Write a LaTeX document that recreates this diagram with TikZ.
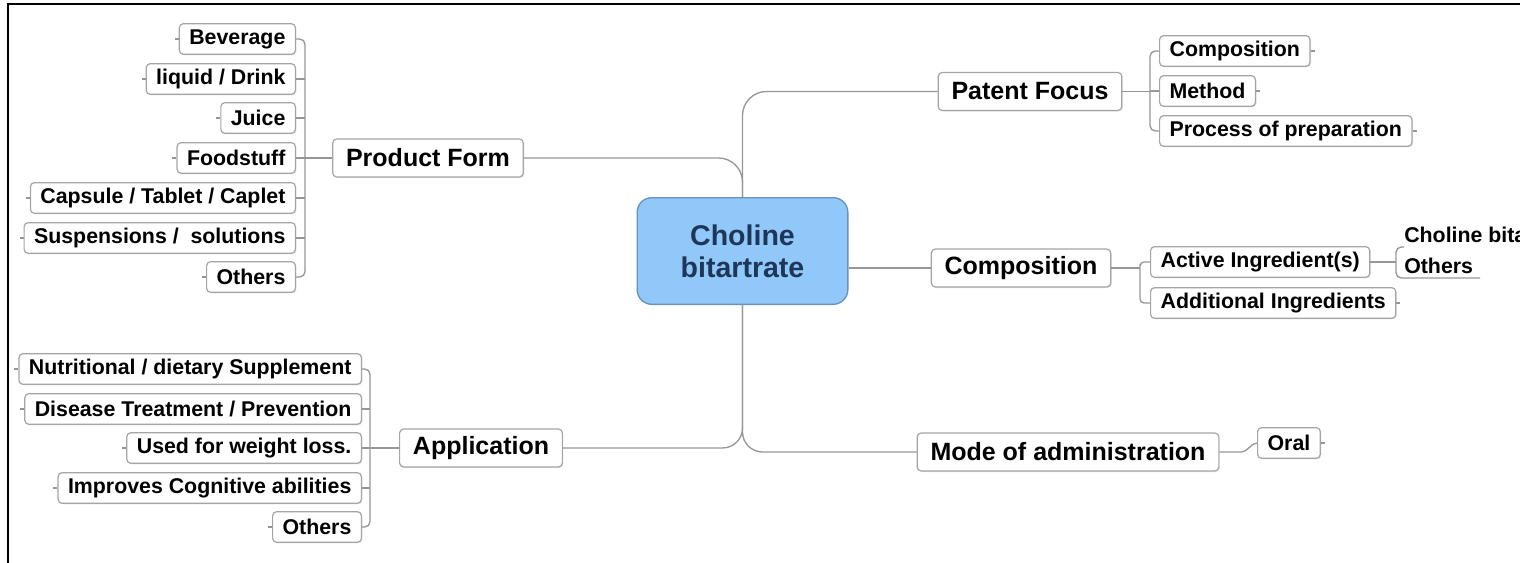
\documentclass[tikz,border=0pt]{standalone}
\usepackage{fontspec}
\setmainfont{Liberation Sans}
\usetikzlibrary{shadows}

\definecolor{corefill}{RGB}{145,200,250}
\definecolor{coreline}{RGB}{105,145,185}
\definecolor{coretext}{RGB}{30,55,88}
\definecolor{linkgray}{RGB}{150,150,150}
\definecolor{boxgray}{RGB}{165,165,165}

\tikzset{
  branch/.style={draw=linkgray, line width=1pt},
  leaf/.style={draw=boxgray, line width=0.9pt, rounded corners=3pt, fill=white,
    inner xsep=7.5pt, inner ysep=0pt, minimum height=23pt,
    font=\fontsize{16}{18}\selectfont\bfseries,
    drop shadow={opacity=0.18, shadow xshift=0.8pt, shadow yshift=-0.8pt}},
  topic/.style={leaf, inner xsep=10pt, minimum height=28.5pt,
    font=\fontsize{18.75}{22}\selectfont\bfseries},
  core/.style={draw=coreline, fill=corefill, line width=1pt, rounded corners=11pt,
    minimum width=158pt, minimum height=80pt, align=center, text=coretext,
    font=\fontsize{21.4}{24}\selectfont\bfseries},
  subtext/.style={inner xsep=6pt, inner ysep=3pt,
    font=\fontsize{16}{18}\selectfont\bfseries}
}

\begin{document}
\begin{tikzpicture}[x=0.75pt,y=0.75pt,yscale=-1,xscale=1]
\useasboundingbox (0,0) rectangle (1520,563);

%Frame
\draw [line width=1.5pt] (7.5,563) -- (7.5,4) -- (1520,4);

%Central topic
\node[core] (core) at (742.5,251) {Choline\\bitartrate};

%Main topics
\node[topic] (pform) at (428,158) {Product Form};
\node[topic] (pfocus) at (1030,91.5) {Patent Focus};
\node[topic] (comp) at (1021,268) {Composition};
\node[topic] (appl) at (481,448) {Application};
\node[topic] (mode) at (1068,452) {Mode of administration};

%Trunk lines
\draw[branch, rounded corners=18pt] (core.north) |- (pfocus.west);
\draw[branch, rounded corners=18pt] (pform.east) -| (core.north);
\draw[branch, rounded corners=15pt] (core.south) |- (appl.east);
\draw[branch, rounded corners=15pt] (core.south) |- (mode.west);
\draw[branch] (core.east |- comp.west) -- (comp.west);

%Product Form subtopics
\foreach \name/\y/\txt in {pf1/39/Beverage, pf2/79/{liquid / Drink}, pf3/118/Juice,
    pf4/158/Foodstuff, pf5/198/{Capsule / Tablet / Caplet},
    pf6/238/{Suspensions /\ \ solutions}, pf7/277/Others}
  \node[leaf, anchor=east] (\name) at (296,\y) {\txt};
\coordinate (pfbar) at (305,158);
\draw[branch] (pform.west) -- (pfbar);
\draw[branch, rounded corners=4pt] (pf1.east) -| (pfbar) |- (pf7.east);
\foreach \name in {pf2,pf3,pf4,pf5,pf6}
  \draw[branch] (\name.east) -- (\name.east -| pfbar);
\foreach \name in {pf1,pf2,pf3,pf4,pf5,pf6,pf7}
  \draw[branch] (\name.west) -- ++(-4,0);

%Application subtopics
\foreach \name/\y/\txt in {ap1/369/{Nutritional / dietary Supplement},
    ap2/409/{Disease Treatment / Prevention}, ap3/448/{Used for weight loss.},
    ap4/488/{Improves Cognitive abilities}, ap5/527/Others}
  \node[leaf, anchor=east] (\name) at (362,\y) {\txt};
\coordinate (apbar) at (370,448);
\draw[branch] (appl.west) -- (apbar);
\draw[branch, rounded corners=4pt] (ap1.east) -| (apbar) |- (ap5.east);
\foreach \name in {ap2,ap3,ap4}
  \draw[branch] (\name.east) -- (\name.east -| apbar);
\foreach \name in {ap1,ap2,ap3,ap4,ap5}
  \draw[branch] (\name.west) -- ++(-4,0);

%Patent Focus subtopics
\foreach \name/\y/\txt in {pt1/51/Composition, pt2/91/Method, pt3/131/{Process of preparation}}
  \node[leaf, anchor=west] (\name) at (1159,\y) {\txt};
\coordinate (ptbar) at (1150,91.5);
\draw[branch] (pfocus.east) -- (ptbar);
\draw[branch, rounded corners=4pt] (pt1.west) -| (ptbar) |- (pt3.west);
\draw[branch] (pt2.west) -- (pt2.west -| ptbar);
\foreach \name in {pt1,pt2,pt3}
  \draw[branch] (\name.east) -- ++(4,0);

%Composition subtopics
\node[leaf, anchor=west] (act) at (1150,262) {Active Ingredient(s)};
\node[leaf, anchor=west] (addi) at (1150,303) {Additional Ingredients};
\coordinate (cobar) at (1140,268);
\draw[branch] (comp.east) -- (cobar);
\draw[branch, rounded corners=3pt] (act.west) -| (cobar) |- (addi.west);
\draw[branch] (addi.east) -- ++(4,0);

%Active ingredient subtopics
\node[subtext, anchor=south west] (chol) at (1396,247) {Choline bitartrate};
\node[subtext, anchor=south west] (oth) at (1396,278) {Others};
\coordinate (l3bar) at (1396,262);
\coordinate (othend) at (1480,278);
\draw[branch] (act.east) -- (l3bar);
\draw[branch, rounded corners=4pt] ([xshift=6]chol.south west) -| (l3bar) |- (othend);

%Mode of administration subtopic
\node[leaf, anchor=west] (oral) at (1257,443) {Oral};
\draw[branch] (mode.east) -- ++(22,0) .. controls +(6,0) and +(-6,0) .. (oral.west);
\draw[branch] (oral.east) -- ++(4,0);

\end{tikzpicture}
\end{document}
